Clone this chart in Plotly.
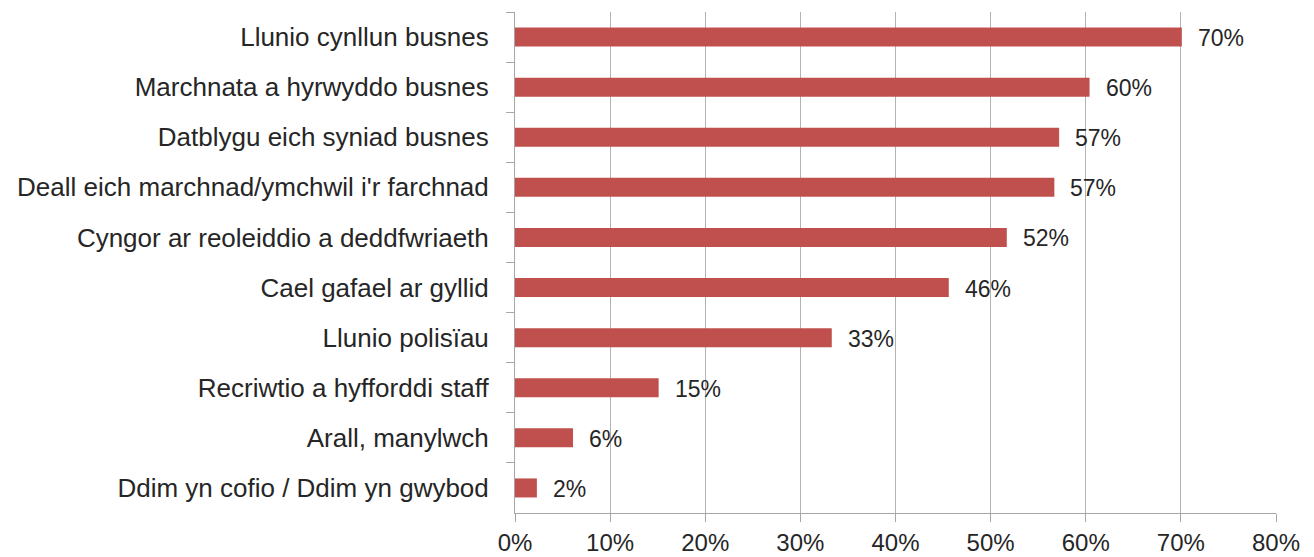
import plotly.graph_objects as go

categories = [
    "Llunio cynllun busnes",
    "Marchnata a hyrwyddo busnes",
    "Datblygu eich syniad busnes",
    "Deall eich marchnad/ymchwil i'r farchnad",
    "Cyngor ar reoleiddio a deddfwriaeth",
    "Cael gafael ar gyllid",
    "Llunio polisïau",
    "Recriwtio a hyfforddi staff",
    "Arall, manylwch",
    "Ddim yn cofio / Ddim yn gwybod",
]
values = [70.1, 60.4, 57.2, 56.7, 51.7, 45.6, 33.3, 15.1, 6.1, 2.3]
labels = ["70%", "60%", "57%", "57%", "52%", "46%", "33%", "15%", "6%", "2%"]
x_ticks = [0, 10, 20, 30, 40, 50, 60, 70, 80]
x_tick_text = ["0%", "10%", "20%", "30%", "40%", "50%", "60%", "70%", "80%"]

font = "Liberation Sans, Arial, sans-serif"
text_col = "#262626"

fig = go.Figure(go.Bar(
    x=values,
    y=categories,
    orientation="h",
    marker=dict(color="#c0504d", line=dict(width=0)),
    hoverinfo="skip",
))

for v, c, t in zip(values, categories, labels):
    fig.add_annotation(x=v, y=c, text=t, showarrow=False, xanchor="left",
                       xshift=14, yshift=-1,
                       font=dict(family=font, size=23, color=text_col))

# page body has an 8px margin, so the figure is 8px smaller each way
fig.update_layout(
    width=1306, height=549,
    margin=dict(l=507, r=38, t=4, b=44),
    paper_bgcolor="white", plot_bgcolor="white",
    bargap=0.62,
    showlegend=False,
)
fig.update_xaxes(
    range=[0, 80], tickvals=x_ticks, ticktext=x_tick_text,
    showgrid=True, gridcolor="#b3b3b3", gridwidth=1,
    showline=True, linecolor="#a6a6a6", linewidth=1,
    ticks="outside", ticklen=8, tickcolor="#a6a6a6",
    automargin=False,
    tickfont=dict(family=font, size=24, color=text_col),
    zeroline=False, fixedrange=True,
)
fig.update_yaxes(
    autorange="reversed",
    showline=True, linecolor="#a6a6a6", linewidth=1,
    ticks="outside", ticklen=8, tickcolor="#a6a6a6", tickson="boundaries",
    ticklabelstandoff=20, automargin=False,
    tickfont=dict(family=font, size=26, color=text_col),
    showgrid=False, fixedrange=True,
)

fig.write_html("out.html")
